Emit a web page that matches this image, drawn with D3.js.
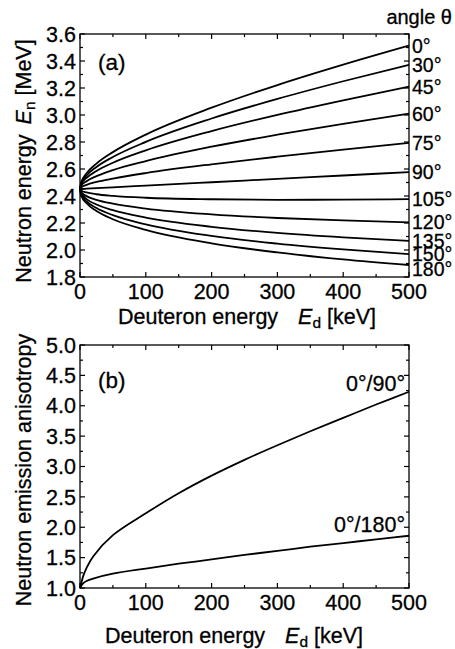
<!DOCTYPE html>
<html><head><meta charset="utf-8">
<script src="https://cdn.jsdelivr.net/npm/d3@7"></script>
<style>
html,body{margin:0;padding:0;background:#fff;}
text{font-family:"Liberation Sans",Arial,sans-serif;fill:#000;stroke:#000;stroke-width:0.3px;}
</style></head>
<body><svg id="c" width="455" height="649"></svg>
<script>
// ---------- data: panel (a) neutron energy [MeV] vs deuteron energy [keV]
const energies = [0, 2, 10, 25, 50, 100, 200, 300, 400, 500];
const angleLabels = ["0°","30°","45°","60°","75°","90°","105°","120°","135°","150°","180°"];
const en0   = [2.452, 2.502, 2.568, 2.640, 2.725, 2.855, 3.054, 3.222, 3.373, 3.514];
const en30  = [2.452, 2.496, 2.552, 2.615, 2.689, 2.801, 2.974, 3.119, 3.250, 3.372];
const en45  = [2.452, 2.488, 2.534, 2.585, 2.646, 2.738, 2.881, 3.001, 3.109, 3.210];
const en60  = [2.452, 2.477, 2.510, 2.547, 2.592, 2.659, 2.765, 2.854, 2.935, 3.011];
const en75  = [2.452, 2.465, 2.483, 2.504, 2.529, 2.570, 2.635, 2.691, 2.743, 2.793];
const en90  = [2.452, 2.452, 2.454, 2.458, 2.464, 2.477, 2.502, 2.527, 2.552, 2.577];
const en105 = [2.452, 2.439, 2.426, 2.413, 2.401, 2.387, 2.376, 2.372, 2.373, 2.377];
const en120 = [2.452, 2.428, 2.399, 2.372, 2.343, 2.307, 2.264, 2.237, 2.219, 2.205];
const en135 = [2.452, 2.417, 2.377, 2.337, 2.295, 2.240, 2.172, 2.127, 2.094, 2.068];
const en150 = [2.452, 2.410, 2.360, 2.311, 2.258, 2.190, 2.104, 2.047, 2.004, 1.969];
const en180 = [2.452, 2.403, 2.346, 2.289, 2.228, 2.149, 2.049, 1.982, 1.930, 1.889];
const enSeries = [en0, en30, en45, en60, en75, en90, en105, en120, en135, en150, en180];

// ---------- data: panel (b) anisotropy
const aniE     = [0, 5, 10, 20, 50, 100, 150, 200, 250, 300, 350, 400, 450, 500];
const ratio90  = [1.00, 1.20, 1.33, 1.52, 1.87, 2.23, 2.56, 2.85, 3.11, 3.35, 3.58, 3.80, 4.02, 4.23];
const ratio180 = [1.00, 1.08, 1.115, 1.155, 1.235, 1.32, 1.40, 1.47, 1.545, 1.61, 1.68, 1.74, 1.80, 1.86];
const ratioLabels = ["0°/90°", "0°/180°"];

const xTicks  = [0, 100, 200, 300, 400, 500];
const yTicksA = [1.8, 2.0, 2.2, 2.4, 2.6, 2.8, 3.0, 3.2, 3.4, 3.6];
const yTicksB = [1.0, 1.5, 2.0, 2.5, 3.0, 3.5, 4.0, 4.5, 5.0];

// ---------- layout
const svg = d3.select("#c");
const L = 80, R = 409;
const FS = 21.5;
const panels = [
  {top: 34,  bottom: 277, ydom: [1.8, 3.6], yt: yTicksA, ystep: 0.1, fmt: d3.format(".1f")},
  {top: 345, bottom: 588, ydom: [1.0, 5.0], yt: yTicksB, ystep: 0.25, fmt: d3.format(".1f")}
];
const x = d3.scaleLinear().domain([0, 500]).range([L, R]);

function frame(p){
  const y = d3.scaleLinear().domain(p.ydom).range([p.bottom, p.top]);
  const g = svg.append("g");
  const minorX = d3.range(0, 501, 50);
  const minorY = d3.range(0, Math.round((p.ydom[1]-p.ydom[0])/p.ystep)+1).map(i => p.ydom[0] + i*p.ystep);
  const line = (x1,y1,x2,y2) => g.append("line").attr("x1",x1).attr("y1",y1).attr("x2",x2).attr("y2",y2)
      .attr("stroke","#000").attr("stroke-width",1.2);
  minorX.forEach(v => {
    const len = (v % 100 === 0) ? 5 : 3;
    const xx = x(v);
    line(xx, p.bottom, xx, p.bottom - len);
    line(xx, p.top, xx, p.top + len);
  });
  minorY.forEach(v => {
    const major = p.yt.some(t => Math.abs(t - v) < 1e-6);
    const len = major ? 5 : 3;
    const yy = y(v);
    line(L, yy, L + len, yy);
    line(R, yy, R - len, yy);
  });
  g.append("rect").attr("x",L).attr("y",p.top).attr("width",R-L).attr("height",p.bottom-p.top)
    .attr("fill","none").attr("stroke","#000").attr("stroke-width",1.3);
  g.selectAll(".xl").data(xTicks).enter().append("text")
    .attr("x", d => x(d)).attr("y", p.bottom + 22).attr("text-anchor","middle")
    .attr("font-size", FS).text(d => d);
  g.selectAll(".yl").data(p.yt).enter().append("text")
    .attr("x", L - 4).attr("y", d => y(d)).attr("dy","0.36em").attr("text-anchor","end")
    .attr("font-size", FS).text(d => p.fmt(d));
  return y;
}

function axisTitle(xx, yy, rot, pre, gap, it, sub, post){
  const t = svg.append("text").attr("font-size", FS).attr("text-anchor","middle")
    .attr("transform", `translate(${xx},${yy}) rotate(${rot})`);
  t.append("tspan").text(pre);
  t.append("tspan").attr("dx", gap).attr("font-style","italic").text(it);
  t.append("tspan").attr("font-size", FS*0.72).attr("dy", 4).text(sub);
  t.append("tspan").attr("dy", -4).attr("dx", 6).text(post);
}

// ---------- panel (a)
const yA = frame(panels[0]);
const lineA = d3.line().x((d,i) => x(energies[i])).y(d => yA(d)).curve(d3.curveMonotoneX);
svg.append("g").selectAll("path").data(enSeries).enter().append("path")
  .attr("d", d => lineA(d)).attr("fill","none").attr("stroke","#000").attr("stroke-width",1.8);
const nudge = {"180°": 4};
svg.append("g").selectAll("text").data(enSeries).enter().append("text")
  .attr("x", R + 3).attr("y", (d,i) => yA(d[d.length-1]) + (nudge[angleLabels[i]] || 0))
  .attr("dy","0.36em").attr("font-size", 19.5).text((d,i) => angleLabels[i]);
svg.append("text").attr("x", 452).attr("y", 24).attr("text-anchor","end").attr("font-size", FS-1.5).text("angle θ");
svg.append("text").attr("x", 98).attr("y", 70).attr("font-size", FS+1).text("(a)");
axisTitle(247, 324, 0, "Deuteron energy", 20, "E", "d", "[keV]");
axisTitle(31, 161, -90, "Neutron energy", 10, "E", "n", "[MeV]");

// ---------- panel (b)
const yB = frame(panels[1]);
const lineB = d3.line().x((d,i) => x(aniE[i])).y(d => yB(d)).curve(d3.curveCatmullRom.alpha(0.5));
[ratio90, ratio180].forEach(s => {
  svg.append("path").attr("d", lineB(s)).attr("fill","none").attr("stroke","#000").attr("stroke-width",1.8);
});
svg.append("text").attr("x", 405).attr("y", yB(ratio90[ratio90.length-1]) - 1).attr("text-anchor","end")
  .attr("font-size", FS).text(ratioLabels[0]);
svg.append("text").attr("x", 405).attr("y", yB(ratio180[ratio180.length-1]) - 4).attr("text-anchor","end")
  .attr("font-size", FS).text(ratioLabels[1]);
svg.append("text").attr("x", 98).attr("y", 388).attr("font-size", FS+1).text("(b)");
axisTitle(234, 643, 0, "Deuteron energy", 20, "E", "d", "[keV]");
svg.append("text").attr("font-size", FS).attr("text-anchor","middle")
  .attr("transform", `translate(31,470) rotate(-90)`).text("Neutron emission anisotropy");
</script></body></html>
